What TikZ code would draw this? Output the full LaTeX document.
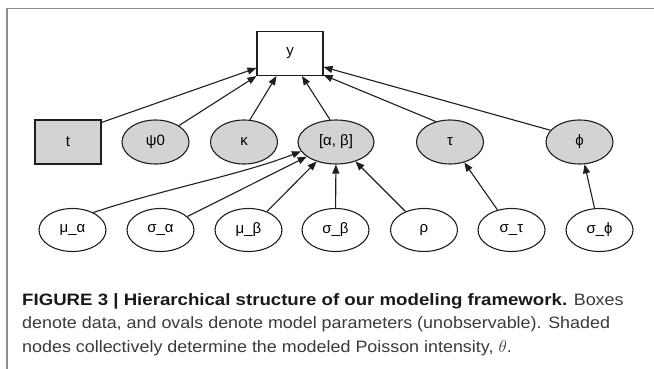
\documentclass[tikz,border=0pt]{standalone}
\usepackage{fontspec}
\setmainfont{Liberation Sans}
\newfontfamily\capfont[FakeStretch=1.085]{Liberation Sans}
\newfontfamily\capboldfont[FakeStretch=1.13]{Liberation Sans}
\usetikzlibrary{arrows.meta,shapes.geometric,calc}
\definecolor{shade}{HTML}{D3D3D3}
\definecolor{edgecol}{HTML}{1E1E1E}
\definecolor{framecol}{HTML}{8C8C8C}
\definecolor{captext}{HTML}{3A3A3A}
\tikzset{
  databox/.style={draw=edgecol, line width=1.1pt, minimum width=66pt, minimum height=44pt, inner sep=0pt, font=\fontsize{15}{17}\selectfont},
  shadedbox/.style={databox, fill=shade},
  param/.style={ellipse, draw=edgecol, line width=1.1pt, minimum width=67pt, minimum height=44pt, inner sep=0pt, font=\fontsize{15}{17}\selectfont},
  shadedparam/.style={param, fill=shade},
  edge/.style={draw=edgecol, line width=1.1pt, -{Triangle[length=9pt,width=7pt]}},
  captionline/.style={anchor=base west, inner sep=0pt, text=captext, font=\capfont\fontsize{16.5}{20}\selectfont}
}
\begin{document}
\begin{tikzpicture}[x=1pt,y=-1pt]
\useasboundingbox (0,0) rectangle (654,369);
% frame
\draw[framecol, line width=1.5pt] (7,369) -- (7,8.5) -- (654,8.5);
% nodes
\node[databox] (y) at (290,53.5) {y};
\node[shadedbox] (t) at (68,142) {t};
\node[shadedparam] (psi) at (155.5,142) {ψ0};
\node[shadedparam] (kappa) at (244,142) {κ};
\node[shadedparam, minimum width=76pt] (ab) at (336,142) {[α, β]};
\node[shadedparam] (tau) at (450,142) {τ};
\node[shadedparam] (phi) at (579.5,142) {ϕ};
\node[param, minimum height=43pt] (mua) at (72.5,230) {μ\_α};
\node[param, minimum height=43pt] (sa) at (160.5,230) {σ\_α};
\node[param, minimum height=43pt] (mub) at (248.5,230) {μ\_β};
\node[param, minimum height=43pt] (sb) at (335.5,230) {σ\_β};
\node[param, minimum height=43pt] (rho) at (424,230) {ρ};
\node[param, minimum height=43pt] (st) at (511.5,230) {σ\_τ};
\node[param, minimum height=43pt] (sp) at (599.5,230) {σ\_ϕ};
% edges into y
\draw[edge] (t.north east) ++(0,3) -- ($(y.west)+(0,14.5)$);
\draw[edge] (psi.35) -- (y.south west);
\draw[edge] (kappa.75) -- ($(y.south west)+(20,0)$);
\draw[edge] (ab.105) -- ($(y.south)+(12,0)$);
\draw[edge] (tau.125) -- ($(y.south east)+(0,-1)$);
\draw[edge] (phi.158) -- ($(y.east)+(0,13.5)$);
% edges into [alpha, beta]
\draw[edge] (mua.40) .. controls (160,190) and (240,175) .. (ab.-165);
\draw[edge] (sa) -- (ab);
\draw[edge] (mub) -- (ab);
\draw[edge] (sb) -- (ab);
\draw[edge] (rho) -- (ab);
\draw[edge] (st) -- (tau);
\draw[edge] (sp) -- (phi);
% caption
\node[captionline] (c1) at (22,305) {{\capboldfont\bfseries\color{black!90}FIGURE 3 | Hierarchical structure of our modeling framework.} Boxes};
\node[captionline] (c2) at (22,328.5) {denote data, and ovals denote model parameters (unobservable). Shaded};
\node[captionline] (c3) at (22,352) {nodes collectively determine the modeled Poisson intensity, $\theta$.};
\end{tikzpicture}
\end{document}
